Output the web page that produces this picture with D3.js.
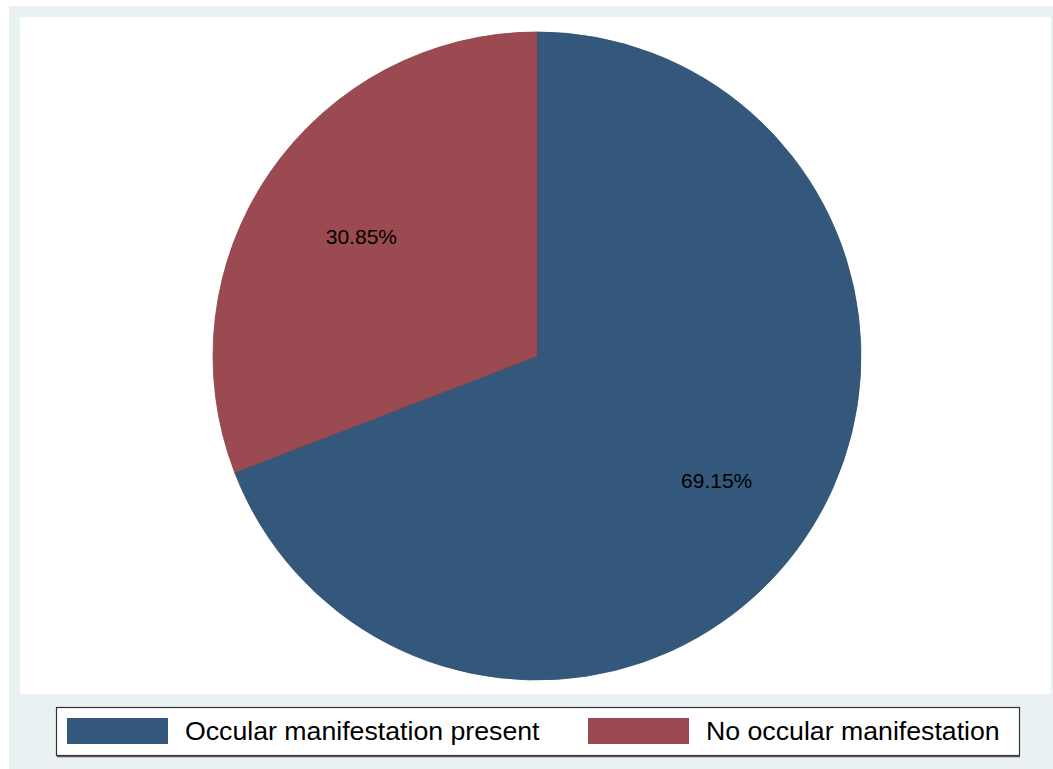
<!DOCTYPE html>
<html>
<head>
<meta charset="utf-8">
<script src="https://cdn.jsdelivr.net/npm/d3@7"></script>
<style>
  body { margin: 0; background: #fff; }
  text { font-family: Arial, "Liberation Sans", sans-serif; fill: #000; }
</style>
</head>
<body>
<div id="chart"></div>
<script>
// data
var categories = ["Occular manifestation present", "No occular manifestation"];
var shares = [69.15, 30.85];
var sliceLabels = ["69.15%", "30.85%"];
var colours = ["#33587c", "#9a4a50"];

var width = 1053, height = 769;

var svg = d3.select("#chart")
  .append("svg")
  .attr("width", width)
  .attr("height", height);

//outer graph region and white plot region
svg.append("rect")
  .attr("x", 9).attr("y", 6)
  .attr("width", width - 9).attr("height", height - 6)
  .attr("fill", "#eaf1f3");
svg.append("rect")
  .attr("x", 20).attr("y", 17)
  .attr("width", 1031).attr("height", 677)
  .attr("fill", "#fff");

var cx = 537, cy = 356, r = 324;

var pie = d3.pie().sort(null).value(function(d) { return d; });
var arcs = pie(shares);

var arc = d3.arc().innerRadius(0).outerRadius(r);
var labelArc = d3.arc().innerRadius(r * 0.665).outerRadius(r * 0.665);

var g = svg.append("g")
  .attr("transform", "translate(" + cx + "," + cy + ")");

//draw the slices
g.selectAll("path")
  .data(arcs)
  .enter()
  .append("path")
  .attr("d", arc)
  .attr("fill", function(d, i) { return colours[i]; })
  .attr("stroke", function(d, i) { return d3.color(colours[i]).darker(0.3); })
  .attr("stroke-width", 0.8);

//percent labels
g.selectAll("text")
  .data(arcs)
  .enter()
  .append("text")
  .attr("transform", function(d) {
    var c = labelArc.centroid(d);
    return "translate(" + (c[0] + 2) + "," + (c[1] + 3) + ")";
  })
  .attr("text-anchor", "middle")
  .attr("dy", "0.35em")
  .style("font-size", "21px")
  .text(function(d, i) { return sliceLabels[i]; });

//legend
var legend = svg.append("g");
legend.append("rect")
  .attr("x", 56.5).attr("y", 707.5)
  .attr("width", 963).attr("height", 48)
  .attr("fill", "#fff")
  .attr("stroke", "#333")
  .attr("stroke-width", 1.2);
legend.append("line")
  .attr("x1", 57).attr("x2", 1020)
  .attr("y1", 756.5).attr("y2", 756.5)
  .attr("stroke", "#555").attr("stroke-width", 1.5);

var legendX = d3.scaleOrdinal()
  .domain(categories)
  .range([67, 588]);

var items = legend.selectAll(".item")
  .data(categories)
  .enter()
  .append("g")
  .attr("class", "item")
  .attr("transform", function(d) { return "translate(" + legendX(d) + ",718)"; });

items.append("rect")
  .attr("width", 101).attr("height", 26)
  .attr("fill", function(d, i) { return colours[i]; });

items.append("text")
  .attr("x", 118).attr("y", 13)
  .attr("dy", "0.35em")
  .style("font-size", "26.7px")
  .text(function(d) { return d; });
</script>
</body>
</html>
